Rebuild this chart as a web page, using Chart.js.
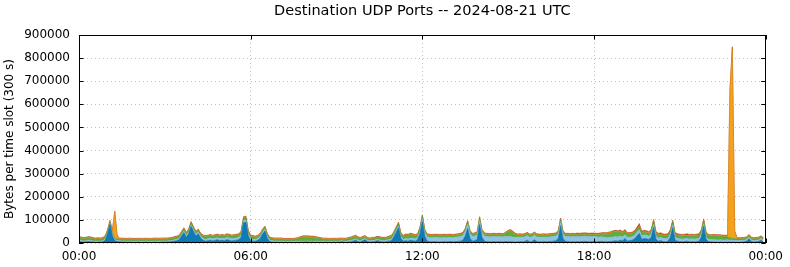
<!DOCTYPE html>
<html>
<head>
<meta charset="utf-8">
<script src="https://cdn.jsdelivr.net/npm/chart.js@4.4.1/dist/chart.umd.min.js"></script>
<style>
  html, body { margin: 0; padding: 0; background: #fff; }
  canvas { display: block; }
</style>
</head>
<body>
<canvas id="chart" width="790" height="267"></canvas>
<script>
const TITLE = "Destination UDP Ports -- 2024-08-21 UTC";
const Y_TITLE = "Bytes per time slot (300 s)";
const X_TICKS = [0, 360, 720, 1080, 1440];          // minutes since midnight
const X_TICK_LABELS = ["00:00", "06:00", "12:00", "18:00", "00:00"];
const Y_TICKS = [0, 100000, 200000, 300000, 400000, 500000, 600000, 700000, 800000, 900000];
const SLOT_MINUTES = 5;

// Values are in thousands of bytes per 300 s slot, one row per hour (12 slots)
const darkBlue = [
  6,5,4,5,6,5,4,3,4,4,5,12,
  40,80,30,10,6,5,4,4,3,4,4,3,
  3,4,3,3,4,3,3,3,4,3,3,4,
  4,4,5,6,8,10,14,30,45,25,40,72,
  50,30,40,22,12,8,10,12,9,11,14,10,
  12,10,14,12,9,10,12,14,25,88,90,30,
  10,8,8,12,20,40,52,20,6,4,3,3,
  3,3,2,3,3,3,2,3,3,3,4,4,
  4,3,4,3,3,4,3,3,4,3,3,4,
  3,4,5,4,3,4,5,8,12,6,4,10,
  14,6,4,5,6,10,8,5,4,6,8,10,
  25,45,66,20,8,10,8,12,10,8,14,40,
  92,30,8,6,5,6,5,4,5,6,5,6,
  6,5,6,7,8,12,30,63,20,8,10,15,
  80,25,8,6,5,5,6,5,6,5,5,6,
  5,6,5,4,5,6,5,7,12,5,6,14,
  6,5,5,6,5,6,7,8,10,20,74,18,
  8,6,5,6,5,6,5,6,7,6,5,6,
  6,5,6,7,6,5,6,6,8,10,8,12,
  10,20,8,10,12,18,30,42,15,20,18,15,
  25,68,15,8,10,6,5,8,25,66,12,8,
  6,5,6,8,5,6,5,6,8,25,72,15,
  6,5,4,4,3,4,3,3,4,4,4,3,
  3,3,4,5,8,18,6,4,5,6,12,5
];

const lightBlue = [
  6,6,5,5,6,6,5,5,5,5,5,6,
  6,6,6,5,5,5,5,5,5,5,5,5,
  5,5,5,5,5,5,5,5,5,5,5,5,
  5,5,5,5,6,6,6,6,7,7,7,7,
  7,7,7,7,8,8,8,9,9,9,9,9,
  9,9,10,10,10,10,10,10,10,10,10,9,
  8,8,8,8,8,7,7,7,6,6,6,6,
  6,6,5,5,5,5,5,5,5,5,5,5,
  5,5,5,5,5,5,5,5,5,5,5,5,
  5,5,5,5,5,6,6,6,6,6,6,6,
  6,6,6,6,6,6,6,6,6,6,7,7,
  7,8,8,8,8,9,9,9,10,10,10,12,
  14,16,18,18,18,18,19,19,18,18,18,18,
  18,18,19,19,20,20,20,20,20,20,20,20,
  20,20,22,22,22,22,22,22,22,22,22,22,
  22,22,20,20,20,20,20,20,20,20,20,20,
  20,20,20,20,20,20,20,20,20,20,20,20,
  20,22,22,22,22,22,22,22,22,22,22,22,
  22,22,20,20,20,18,18,18,18,18,18,18,
  16,16,16,15,15,15,15,15,15,15,15,14,
  14,14,14,14,14,13,13,13,13,13,13,12,
  12,12,12,12,12,12,12,12,12,12,12,12,
  10,10,10,10,10,10,10,10,10,8,8,8,
  8,8,8,7,7,7,7,7,7,7,7,7
];

const green = [
  10,9,8,9,10,9,8,8,8,7,8,8,
  6,6,6,6,6,6,6,6,6,6,6,6,
  6,6,6,6,6,6,6,7,7,7,7,7,
  7,7,7,7,8,8,8,8,8,8,8,8,
  8,8,8,8,9,10,10,10,10,10,10,10,
  10,10,10,10,10,10,10,10,10,10,10,10,
  10,10,8,8,8,8,8,8,7,7,7,7,
  7,7,6,6,6,6,7,8,10,14,16,16,
  16,16,15,14,12,9,8,7,6,6,6,6,
  6,6,6,6,7,8,9,10,10,9,8,7,
  6,6,6,7,7,7,8,8,8,8,9,10,
  10,10,10,10,12,14,15,15,14,12,10,10,
  10,8,8,8,8,8,8,8,8,8,8,8,
  8,8,8,8,8,8,8,8,8,8,8,8,
  8,8,8,8,8,8,8,8,8,8,8,14,
  22,24,20,12,8,8,8,8,8,8,8,8,
  8,8,8,8,8,8,8,8,8,8,8,8,
  8,8,8,8,8,8,8,8,8,8,8,8,
  8,8,9,10,12,14,16,18,20,20,20,18,
  16,14,12,12,12,12,12,12,12,12,12,12,
  12,12,12,12,12,12,12,12,12,12,12,12,
  12,12,12,12,12,12,12,12,12,12,12,14,
  14,14,16,16,16,15,14,14,12,10,8,8,
  6,6,6,6,6,6,6,6,6,6,6,6
];

const orange = [
  3,3,3,3,3,3,3,3,3,3,3,3,
  3,3,10,114,12,3,3,3,3,3,3,3,
  3,3,3,3,3,3,3,3,3,3,3,3,
  3,3,3,3,3,3,3,3,3,3,3,3,
  3,3,3,3,3,3,3,3,3,3,3,3,
  3,3,3,3,3,3,3,3,3,3,3,3,
  3,3,3,3,3,3,3,3,3,3,3,3,
  3,3,3,3,3,3,3,3,3,3,3,3,
  3,3,3,3,3,3,3,3,3,3,3,3,
  3,3,3,3,3,3,3,3,3,3,3,3,
  3,3,3,3,3,3,3,3,3,3,3,3,
  3,3,3,3,3,3,3,3,3,3,3,3,
  3,3,3,3,3,3,3,3,3,3,3,3,
  3,3,3,3,3,3,3,3,3,3,3,3,
  3,3,3,3,3,3,3,3,3,3,3,3,
  3,3,3,3,3,3,3,3,3,3,3,3,
  3,3,3,3,3,3,3,3,3,3,3,3,
  3,3,3,3,3,3,3,3,3,3,3,3,
  3,3,3,3,3,3,3,3,3,3,3,3,
  3,3,3,3,3,3,3,3,3,3,3,3,
  3,3,3,3,3,3,3,3,3,3,3,3,
  3,3,3,3,3,3,3,3,3,3,3,3,
  3,3,3,3,3,3,3,3,3,640,825,30,
  3,3,3,3,3,3,3,3,3,3,3,3
];

const red = [
  3,3,3,3,3,3,3,3,3,3,3,3,
  3,3,3,3,3,3,3,3,3,3,3,3,
  3,3,3,3,3,3,3,3,3,3,3,3,
  3,3,3,3,3,3,3,3,3,3,3,3,
  3,3,3,3,3,3,3,3,3,3,3,3,
  3,3,3,3,3,3,3,3,3,3,3,3,
  3,3,3,3,3,3,3,3,3,3,3,3,
  3,3,3,3,3,3,3,3,3,3,3,3,
  3,3,3,3,3,3,3,3,3,3,3,3,
  3,3,3,3,3,3,3,3,3,3,3,3,
  3,3,3,3,3,3,3,3,3,3,3,3,
  3,3,3,3,3,3,3,3,3,3,3,3,
  3,3,3,3,3,3,3,3,3,3,3,3,
  3,3,3,3,3,3,3,3,3,3,3,3,
  3,3,3,3,3,3,3,3,3,3,3,3,
  3,3,3,3,3,3,3,3,3,3,3,3,
  3,3,3,3,3,3,3,3,3,3,3,3,
  3,3,3,3,3,4,4,4,4,4,4,4,
  4,4,4,4,4,4,4,4,4,4,4,5,
  5,5,5,5,5,6,8,12,6,5,5,5,
  5,5,5,5,5,5,5,5,5,5,5,5,
  5,5,5,5,5,5,5,5,5,5,5,4,
  4,4,4,4,4,4,4,4,4,4,4,4,
  3,3,3,3,3,3,3,3,3,3,3,3
];

const SERIES = [
  { name: "dark blue", values: darkBlue, color: "#0f7ab4", edge: "#0b6a9e" },
  { name: "light blue", values: lightBlue, color: "#8dc3e3", edge: "#7ab3d6" },
  { name: "green", values: green, color: "#5fae3c", edge: "#4c9630" },
  { name: "orange", values: orange, color: "#f5a11c", edge: "#d9820f" },
  { name: "red", values: red, color: "#c9501c", edge: "#b44416" }
];

Chart.defaults.font.family = "'DejaVu Sans', sans-serif";
Chart.defaults.font.size = 12;
Chart.defaults.color = "#000";

const datasets = SERIES.map((s, i) => ({
  label: s.name,
  data: s.values.map((v, k) => ({ x: k * SLOT_MINUTES, y: v * 1000 })),
  backgroundColor: s.color,
  borderColor: s.edge,
  borderWidth: 0.6,
  pointRadius: 0,
  tension: 0,
  fill: i === 0 ? "origin" : "-1"
}));

// frame, inward tick marks and the title, drawn like the original plot
const framePlugin = {
  id: "frame",
  afterDraw(chart) {
    const { ctx, chartArea: a, scales } = chart;
    ctx.save();
    ctx.strokeStyle = "#000";
    ctx.lineWidth = 1;
    ctx.strokeRect(Math.round(a.left) + 0.5, Math.round(a.top) + 0.5,
                   Math.round(a.right - a.left) - 1, Math.round(a.bottom - a.top) - 1);
    const tl = 4.5;
    ctx.beginPath();
    Y_TICKS.forEach(v => {
      const y = Math.round(scales.y.getPixelForValue(v)) + 0.5;
      ctx.moveTo(a.left, y); ctx.lineTo(a.left + tl, y);
      ctx.moveTo(a.right, y); ctx.lineTo(a.right - tl, y);
    });
    X_TICKS.forEach(v => {
      const x = Math.round(scales.x.getPixelForValue(v)) + 0.5;
      ctx.moveTo(x, a.bottom); ctx.lineTo(x, a.bottom - tl);
      ctx.moveTo(x, a.top); ctx.lineTo(x, a.top + tl);
    });
    ctx.stroke();
    ctx.fillStyle = "#000";
    ctx.font = "14.5px 'DejaVu Sans', sans-serif";
    ctx.textAlign = "center";
    ctx.textBaseline = "middle";
    ctx.fillText(TITLE, (a.left + a.right) / 2, 11);
    ctx.restore();
  }
};

new Chart(document.getElementById("chart"), {
  type: "line",
  data: { datasets },
  plugins: [framePlugin],
  options: {
    responsive: false,
    animation: false,
    devicePixelRatio: 1,
    layout: { padding: { top: 35, right: 22, left: 0, bottom: 0 } },
    plugins: { legend: { display: false }, tooltip: { enabled: false }, title: { display: false } },
    scales: {
      x: {
        type: "linear",
        min: 0,
        max: 1440,
        afterBuildTicks: s => { s.ticks = X_TICKS.map(v => ({ value: v })); },
        afterFit: s => { s.height = 24; },
        ticks: {
          padding: 7,
          maxRotation: 0,
          autoSkip: false,
          callback: v => X_TICK_LABELS[X_TICKS.indexOf(v)]
        },
        grid: { color: "#b0b0b0", lineWidth: 0.8, drawTicks: false },
        border: { display: false, dash: [1, 3] }
      },
      y: {
        stacked: true,
        min: 0,
        max: 900000,
        afterBuildTicks: s => { s.ticks = Y_TICKS.map(v => ({ value: v })); },
        afterFit: s => { s.width = 79; },
        ticks: { padding: 9, autoSkip: false, callback: v => String(v) },
        title: { display: true, text: Y_TITLE, padding: { top: 3, bottom: 0 }, font: { size: 12 } },
        grid: { color: "#b0b0b0", lineWidth: 0.8, drawTicks: false },
        border: { display: false, dash: [1, 3] }
      }
    }
  }
});
</script>
</body>
</html>
